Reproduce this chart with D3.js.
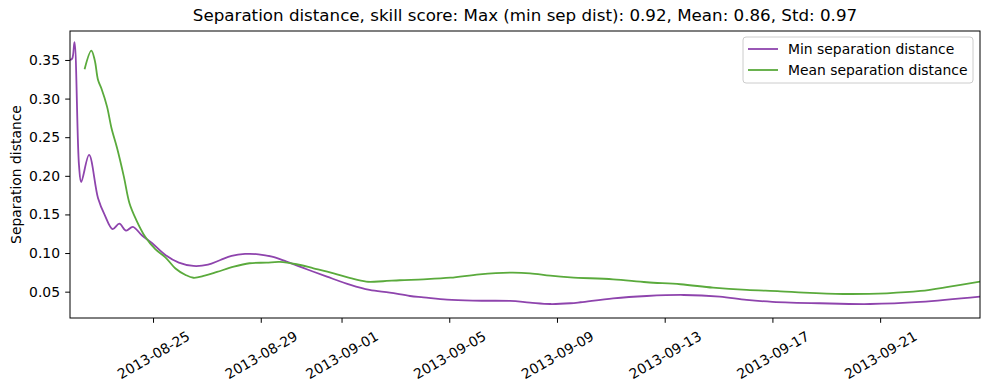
<!DOCTYPE html>
<html>
<head>
<meta charset="utf-8">
<script src="https://cdn.jsdelivr.net/npm/d3@7"></script>
<style>
  body { margin: 0; background: #fff; }
  svg text { font-family: "DejaVu Sans", sans-serif; }
</style>
</head>
<body>
<svg id="chart" width="989" height="390"></svg>
<script>
// min separation distance
var minTimes = ["2013-08-21T22:00", "2013-08-22T00:00", "2013-08-22T02:00", "2013-08-22T06:00", "2013-08-22T08:00",
  "2013-08-22T15:00", "2013-08-22T23:00", "2013-08-23T05:00", "2013-08-23T12:00", "2013-08-23T18:00",
  "2013-08-24T00:00", "2013-08-24T06:00", "2013-08-24T14:00", "2013-08-24T23:00", "2013-08-25T11:00",
  "2013-08-25T23:00", "2013-08-26T12:00", "2013-08-27T01:00", "2013-08-27T12:00", "2013-08-27T22:00",
  "2013-08-28T10:00", "2013-08-28T22:00", "2013-08-29T10:00", "2013-08-29T23:00", "2013-08-30T17:00",
  "2013-08-31T11:00", "2013-09-01T08:00", "2013-09-02T01:00", "2013-09-02T19:00", "2013-09-03T13:00",
  "2013-09-04T01:00", "2013-09-04T22:00", "2013-09-05T21:00", "2013-09-07T06:00", "2013-09-08T00:00",
  "2013-09-08T18:00", "2013-09-09T12:00", "2013-09-09T21:00", "2013-09-11T02:00", "2013-09-12T08:00",
  "2013-09-13T17:00", "2013-09-15T01:00", "2013-09-16T01:00", "2013-09-17T00:00", "2013-09-18T18:00",
  "2013-09-20T15:00", "2013-09-22T12:00", "2013-09-24T17:00"];
var minValues = [0.350, 0.352, 0.373, 0.214, 0.192,
  0.227, 0.171, 0.149, 0.131, 0.138,
  0.129, 0.134, 0.123, 0.113, 0.0975,
  0.0876, 0.0833, 0.0850, 0.0910, 0.0962,
  0.0988, 0.0984, 0.0953, 0.0888, 0.0790,
  0.0694, 0.0587, 0.0522, 0.0487, 0.0444,
  0.0427, 0.0396, 0.0383, 0.0380, 0.0358,
  0.0340, 0.0350, 0.0363, 0.0414, 0.0444,
  0.0457, 0.0435, 0.0393, 0.0369, 0.0350,
  0.0340, 0.0367, 0.0435];

// mean separation distance
var meanTimes = ["2013-08-22T11:00", "2013-08-22T17:00", "2013-08-22T20:00", "2013-08-22T23:00", "2013-08-23T02:00",
  "2013-08-23T07:00", "2013-08-23T11:00", "2013-08-23T16:00", "2013-08-23T22:00", "2013-08-24T03:00",
  "2013-08-24T09:00", "2013-08-24T17:00", "2013-08-25T02:00", "2013-08-25T11:00", "2013-08-25T20:00",
  "2013-08-26T05:00", "2013-08-26T12:00", "2013-08-26T22:00", "2013-08-27T09:00", "2013-08-28T00:00",
  "2013-08-28T14:00", "2013-08-29T05:00", "2013-08-29T17:00", "2013-08-30T08:00", "2013-08-30T23:00",
  "2013-08-31T17:00", "2013-09-01T08:00", "2013-09-01T22:00", "2013-09-02T13:00", "2013-09-03T04:00",
  "2013-09-04T01:00", "2013-09-05T01:00", "2013-09-06T03:00", "2013-09-07T06:00", "2013-09-08T00:00",
  "2013-09-08T18:00", "2013-09-09T12:00", "2013-09-11T02:00", "2013-09-12T08:00", "2013-09-13T14:00",
  "2013-09-14T19:00", "2013-09-16T01:00", "2013-09-17T07:00", "2013-09-18T04:00", "2013-09-19T15:00",
  "2013-09-21T06:00", "2013-09-22T12:00", "2013-09-23T14:00", "2013-09-24T17:00"];
var meanValues = [0.338, 0.362, 0.350, 0.324, 0.313,
  0.2896, 0.2616, 0.2357, 0.199, 0.1645,
  0.143, 0.121, 0.105, 0.0945, 0.0800,
  0.0716, 0.0680, 0.0707, 0.0755, 0.0824,
  0.0868, 0.0876, 0.0885, 0.0855, 0.0803,
  0.0738, 0.0674, 0.0630, 0.0635, 0.0648,
  0.0660, 0.0681, 0.0725, 0.0746, 0.0738,
  0.0707, 0.0685, 0.0660, 0.0622, 0.0596,
  0.0552, 0.0522, 0.0505, 0.0487, 0.0470,
  0.0479, 0.0509, 0.0565, 0.0630];

var xTickLabels = ["2013-08-25", "2013-08-29", "2013-09-01", "2013-09-05", "2013-09-09", "2013-09-13", "2013-09-17", "2013-09-21"];
var yTickValues = [0.05, 0.10, 0.15, 0.20, 0.25, 0.30, 0.35];
var seriesNames = ["Min separation distance", "Mean separation distance"];
var colors = ["#8e44ad", "#5aaa3c"];
var title = "Separation distance, skill score: Max (min sep dist): 0.92, Mean: 0.86, Std: 0.97";

var parseTime = d3.timeParse("%Y-%m-%dT%H:%M");
var parseDay = d3.timeParse("%Y-%m-%d");

var series = [
  minTimes.map((t, i) => ({date: parseTime(t), value: minValues[i]})),
  meanTimes.map((t, i) => ({date: parseTime(t), value: meanValues[i]}))
];

var svg = d3.select("#chart"),
    margin = {top: 31, right: 9, bottom: 72, left: 70},
    width = svg.attr("width") - margin.left - margin.right,
    height = svg.attr("height") - margin.top - margin.bottom,
    g = svg.append("g").attr("transform", `translate(${margin.left},${margin.top})`);

var x = d3.scaleTime()
  .domain([parseTime("2013-08-21T22:00"), parseTime("2013-09-24T17:00")])
  .range([0, width]);
var y = d3.scaleLinear().domain([0.0159, 0.3875]).range([height, 0]);

var line = d3.line()
  .curve(d3.curveCatmullRom.alpha(0.5))
  .x(d => x(d.date))
  .y(d => y(d.value));

// clip lines to the axes box
svg.append("defs").append("clipPath").attr("id", "clip")
  .append("rect").attr("width", width).attr("height", height);

g.selectAll(".line")
  .data(series)
  .enter()
  .append("path")
  .attr("class", "line")
  .attr("clip-path", "url(#clip)")
  .attr("d", d => line(d))
  .style("stroke", (d, i) => colors[i])
  .style("stroke-width", 1.8)
  .style("fill", "none");

// x axis
var xAxis = g.append("g")
  .attr("transform", `translate(0,${height})`)
  .call(d3.axisBottom(x)
    .tickValues(xTickLabels.map(parseDay))
    .tickSize(4.8)
    .tickFormat(d3.timeFormat("%Y-%m-%d")));
xAxis.select(".domain").remove();
xAxis.selectAll("line").attr("stroke", "#000");
xAxis.selectAll("text")
  .attr("y", 0).attr("dy", 0)
  .attr("fill", "#000")
  .style("font-size", "13.9px")
  .attr("text-anchor", "middle")
  .attr("dominant-baseline", "central")
  .attr("transform", "translate(0,37) rotate(-30)");

// y axis
var yAxis = g.append("g")
  .call(d3.axisLeft(y)
    .tickValues(yTickValues)
    .tickSize(4.8)
    .tickFormat(d3.format(".2f")));
yAxis.select(".domain").remove();
yAxis.selectAll("line").attr("stroke", "#000");
yAxis.selectAll("text")
  .attr("fill", "#000")
  .attr("x", -10)
  .style("font-size", "13.9px");

// frame
g.append("rect")
  .attr("width", width).attr("height", height)
  .attr("fill", "none").attr("stroke", "#000").attr("stroke-width", 1);

g.append("text")
  .attr("transform", `translate(-54,${height / 2}) rotate(-90)`)
  .attr("text-anchor", "middle")
  .attr("dominant-baseline", "central")
  .style("font-size", "13.9px")
  .text("Separation distance");

svg.append("text")
  .attr("x", margin.left + width / 2)
  .attr("y", 21)
  .attr("text-anchor", "middle")
  .style("font-size", "16.7px")
  .text(title);

// legend
var legend = svg.append("g").attr("transform", "translate(743,37)");
legend.append("rect")
  .attr("width", 230).attr("height", 46).attr("rx", 3)
  .attr("fill", "#fff").attr("fill-opacity", 0.8)
  .attr("stroke", "#ccc");
seriesNames.forEach((name, i) => {
  var row = legend.append("g").attr("transform", `translate(0,${12 + i * 21})`);
  row.append("line")
    .attr("x1", 5).attr("x2", 35)
    .attr("stroke", colors[i]).attr("stroke-width", 1.8);
  row.append("text")
    .attr("x", 45)
    .attr("dominant-baseline", "central")
    .style("font-size", "13.9px")
    .text(name);
});
</script>
</body>
</html>
